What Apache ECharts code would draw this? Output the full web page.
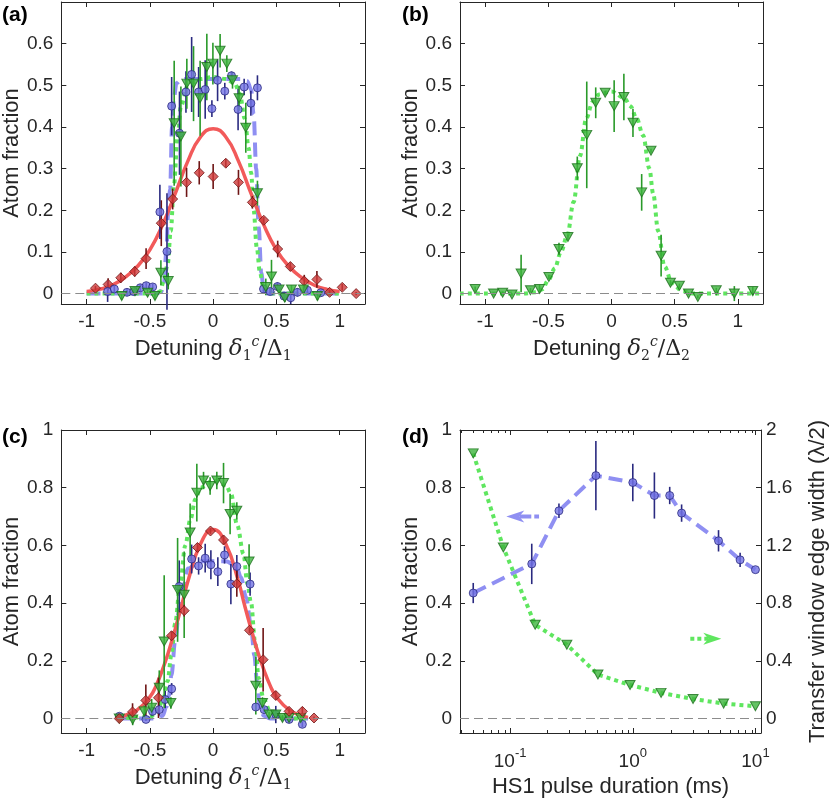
<!DOCTYPE html>
<html>
<head>
<meta charset="utf-8">
<script src="https://cdn.jsdelivr.net/npm/echarts@6/dist/echarts.min.js"></script>
<style>html,body{margin:0;padding:0;background:#fff}#main{width:830px;height:799px}</style>
</head>
<body>
<div id="main"></div>
<script>
// ---- panel (a): detuning scan, three pulse settings ----
var aRedX = [-0.93, -0.83, -0.73, -0.62, -0.53, -0.41, -0.32, -0.21, -0.11, 0.0, 0.1, 0.2, 0.31, 0.4, 0.51, 0.61, 0.72, 0.82, 0.92, 1.02, 1.13];
var aRedY = [0.013, 0.022, 0.038, 0.053, 0.084, 0.169, 0.227, 0.267, 0.29, 0.281, 0.313, 0.267, 0.219, 0.176, 0.107, 0.065, 0.03, 0.034, 0.003, 0.015, 0.0];
var aRedE = [0.005, 0.015, 0.012, 0.012, 0.025, 0.055, 0.025, 0.035, 0.028, 0.03, 0.01, 0.03, 0.015, 0.008, 0.02, 0.01, 0.015, 0.02, 0.005, 0.008, 0.004];
var aBlueX = [-0.834, -0.781, -0.681, -0.628, -0.576, -0.529, -0.478, -0.421, -0.365, -0.328, -0.266, -0.215, -0.17, -0.115, -0.063, -0.01, 0.035, 0.092, 0.145, 0.197, 0.245, 0.298, 0.35, 0.398, 0.45, 0.508, 0.56, 0.613, 0.666, 0.745, 0.85];
var aBlueY = [0.005, 0.011, 0.003, 0.005, 0.014, 0.019, 0.016, 0.196, 0.101, 0.45, 0.385, 0.484, 0.526, 0.484, 0.49, 0.444, 0.512, 0.486, 0.523, 0.442, 0.496, 0.457, 0.494, 0.011, 0.005, 0.017, -0.006, -0.01, 0.003, 0.008, 0.002];
var aBlueE = [0.025, 0.008, 0.008, 0.006, 0.008, 0.008, 0.008, 0.065, 0.14, 0.07, 0.1, 0.05, 0.09, 0.06, 0.07, 0.02, 0.05, 0.02, 0.01, 0.05, 0.02, 0.03, 0.03, 0.01, 0.008, 0.01, 0.01, 0.015, 0.01, 0.008, 0.006];
var aGreenX = [-0.723, -0.618, -0.518, -0.46, -0.413, -0.355, -0.308, -0.255, -0.208, -0.155, -0.103, -0.05, -0.002, 0.055, 0.108, 0.153, 0.205, 0.258, 0.35, 0.416, 0.461, 0.521, 0.566, 0.619, 0.713, 0.824];
var aGreenY = [-0.006, 0.006, 0.002, -0.006, 0.05, 0.03, 0.409, 0.377, 0.504, 0.504, 0.469, 0.544, 0.552, 0.583, 0.552, 0.512, 0.469, 0.398, 0.241, 0.016, 0.041, 0.01, -0.01, 0.01, 0.01, -0.006];
var aGreenE = [0.008, 0.01, 0.008, 0.008, 0.03, 0.02, 0.15, 0.12, 0.06, 0.09, 0.09, 0.08, 0.05, 0.04, 0.02, 0.02, 0.03, 0.06, 0.03, 0.02, 0.04, 0.01, 0.01, 0.01, 0.01, 0.01];
// fit curves
var aRedFitX = [-1.0, -0.9, -0.8, -0.7, -0.6, -0.5, -0.4, -0.3, -0.2, -0.1, 0, 0.1, 0.2, 0.3, 0.4, 0.5, 0.6, 0.7, 0.8, 0.9, 1.0];
var aRedFitY = [0.005, 0.01, 0.02, 0.038, 0.065, 0.105, 0.165, 0.24, 0.318, 0.376, 0.396, 0.376, 0.318, 0.24, 0.165, 0.105, 0.065, 0.038, 0.02, 0.01, 0.005];
var aBlueFitX = [-1.0, -0.45, -0.41, -0.39, -0.37, -0.355, -0.34, -0.325, -0.31, -0.29, -0.25, -0.1, 0.1, 0.22, 0.27, 0.3, 0.32, 0.34, 0.36, 0.38, 0.4, 0.43, 1.0];
var aBlueFitY = [0, 0, 0.005, 0.02, 0.1, 0.2, 0.25, 0.4, 0.47, 0.505, 0.515, 0.515, 0.515, 0.515, 0.51, 0.49, 0.43, 0.3, 0.16, 0.05, 0.01, 0, 0];
var aGreenFitX = [-1.0, -0.45, -0.42, -0.39, -0.36, -0.335, -0.31, -0.28, -0.255, -0.2, -0.1, 0, 0.1, 0.17, 0.21, 0.25, 0.28, 0.3, 0.32, 0.345, 0.37, 0.4, 0.45, 1.0];
var aGreenFitY = [0, 0, 0.005, 0.03, 0.07, 0.15, 0.26, 0.38, 0.45, 0.5, 0.515, 0.52, 0.515, 0.505, 0.48, 0.42, 0.35, 0.29, 0.2, 0.11, 0.05, 0.01, 0, 0];

// ---- panel (b) ----
var bGreenX = [-1.08, -0.934, -0.862, -0.788, -0.716, -0.642, -0.57, -0.496, -0.416, -0.345, -0.271, -0.196, -0.125, -0.05, 0.021, 0.098, 0.17, 0.239, 0.313, 0.393, 0.467, 0.538, 0.61, 0.684, 0.83, 0.973, 1.119];
var bGreenY = [0.011, 0.0, 0.002, -0.002, 0.048, 0.008, 0.011, 0.04, 0.107, 0.136, 0.301, 0.381, 0.458, 0.482, 0.45, 0.472, 0.41, 0.243, 0.343, 0.091, 0.026, 0.019, 0.0, -0.008, 0.008, 0.0, 0.006];
var bGreenE = [0.006, 0.003, 0.003, 0.003, 0.045, 0.005, 0.01, 0.005, 0.015, 0.006, 0.028, 0.128, 0.037, 0.005, 0.062, 0.056, 0.034, 0.044, 0.005, 0.05, 0.006, 0.005, 0.004, 0.004, 0.006, 0.018, 0.01];
var bGreenFitX = [-1.2, -0.7, -0.6, -0.55, -0.5, -0.45, -0.4, -0.35, -0.3, -0.25, -0.2, -0.15, -0.1, 0, 0.1, 0.15, 0.2, 0.25, 0.3, 0.33, 0.37, 0.42, 0.48, 0.56, 0.65, 1.2];
var bGreenFitY = [0, 0, 0.003, 0.01, 0.032, 0.06, 0.1, 0.14, 0.22, 0.33, 0.42, 0.46, 0.478, 0.485, 0.47, 0.45, 0.42, 0.38, 0.3, 0.24, 0.15, 0.065, 0.025, 0.006, 0, 0];

// ---- panel (c) ----
var cRedX = [-0.742, -0.637, -0.532, -0.432, -0.329, -0.229, -0.124, -0.021, 0.082, 0.187, 0.287, 0.395, 0.495, 0.6, 0.705, 0.797];
var cRedY = [0.0, 0.023, 0.063, 0.072, 0.287, 0.374, 0.593, 0.65, 0.619, 0.467, 0.306, 0.204, 0.08, 0.025, 0.025, 0.002];
var cRedE = [0.005, 0.03, 0.055, 0.07, 0.015, 0.02, 0.015, 0.01, 0.015, 0.045, 0.01, 0.11, 0.015, 0.01, 0.015, 0.005];
var cBlueX = [-0.741, -0.531, -0.479, -0.426, -0.379, -0.328, -0.268, -0.17, -0.115, -0.063, -0.018, 0.037, 0.09, 0.14, 0.187, 0.292, 0.337, 0.403, 0.495, 0.6, 0.705];
var cBlueY = [0.008, -0.003, 0.025, 0.031, 0.066, 0.103, 0.458, 0.553, 0.529, 0.556, 0.533, 0.509, 0.567, 0.466, 0.527, 0.466, 0.04, 0.031, 0.014, -0.003, -0.02];
var cBlueE = [0.005, 0.005, 0.015, 0.02, 0.03, 0.02, 0.09, 0.05, 0.03, 0.05, 0.05, 0.05, 0.03, 0.07, 0.04, 0.04, 0.01, 0.01, 0.03, 0.01, 0.01];
var cGreenX = [-0.742, -0.636, -0.545, -0.486, -0.426, -0.387, -0.334, -0.281, -0.229, -0.182, -0.129, -0.076, -0.024, 0.029, 0.082, 0.134, 0.187, 0.284, 0.337, 0.39, 0.442, 0.495, 0.548, 0.6, 0.692];
var cGreenY = [0, -0.003, 0.025, 0.038, 0.107, 0.267, 0.054, 0.446, 0.429, 0.645, 0.783, 0.825, 0.806, 0.825, 0.816, 0.709, 0.72, 0.544, 0.114, 0.054, 0.014, 0.014, 0.002, 0.002, 0.002];
var cGreenE = [0.005, 0.02, 0.02, 0.03, 0.06, 0.23, 0.02, 0.18, 0.15, 0.1, 0.1, 0.03, 0.03, 0.03, 0.07, 0.07, 0.03, 0.06, 0.1, 0.02, 0.01, 0.01, 0.01, 0.01, 0.01];
var cRedFitX = [-0.75, -0.7, -0.6, -0.5, -0.45, -0.4, -0.35, -0.3, -0.25, -0.2, -0.1, 0, 0.1, 0.2, 0.25, 0.3, 0.35, 0.4, 0.45, 0.5, 0.6, 0.7, 0.75];
var cRedFitY = [0.004, 0.01, 0.03, 0.075, 0.115, 0.17, 0.235, 0.31, 0.39, 0.475, 0.605, 0.655, 0.605, 0.475, 0.39, 0.31, 0.235, 0.17, 0.115, 0.075, 0.03, 0.01, 0.004];
var cBlueFitX = [-0.75, -0.45, -0.4, -0.37, -0.35, -0.33, -0.3, -0.27, -0.24, -0.2, -0.1, 0, 0.1, 0.18, 0.22, 0.26, 0.3, 0.325, 0.35, 0.37, 0.4, 0.45, 0.75];
var cBlueFitY = [0, 0, 0.01, 0.04, 0.08, 0.15, 0.27, 0.37, 0.45, 0.52, 0.545, 0.545, 0.545, 0.53, 0.49, 0.42, 0.32, 0.22, 0.11, 0.04, 0.01, 0, 0];
var cGreenFitX = [-0.75, -0.5, -0.45, -0.4, -0.36, -0.33, -0.3, -0.26, -0.22, -0.18, -0.14, -0.1, 0, 0.1, 0.14, 0.19, 0.24, 0.27, 0.3, 0.33, 0.36, 0.4, 0.45, 0.5, 0.55, 0.75];
var cGreenFitY = [0, 0.005, 0.02, 0.06, 0.13, 0.22, 0.33, 0.47, 0.6, 0.69, 0.76, 0.8, 0.825, 0.81, 0.78, 0.67, 0.57, 0.47, 0.4, 0.27, 0.14, 0.066, 0.025, 0.01, 0, 0];

// ---- panel (d): pulse duration scan ----
var dBlueX = [0.05, 0.15, 0.25, 0.5, 1, 1.5, 2, 2.5, 5, 7.5, 10];
var dBlueY = [0.435, 0.536, 0.72, 0.842, 0.818, 0.773, 0.773, 0.712, 0.616, 0.55, 0.516];
var dBlueE = [0.035, 0.07, 0.025, 0.12, 0.065, 0.08, 0.03, 0.03, 0.037, 0.025, 0.0];
var dGreenX = [0.05, 0.088, 0.16, 0.29, 0.52, 0.95, 1.7, 3.1, 5.5, 10];
var dGreenY = [1.838, 1.186, 0.65, 0.512, 0.305, 0.233, 0.178, 0.136, 0.104, 0.085];

// tick labels
var ticksX1 = [-1, -0.5, 0, 0.5, 1];
var ticksY1 = [0, 0.1, 0.2, 0.3, 0.4, 0.5, 0.6];
var ticksY2 = [0, 0.2, 0.4, 0.6, 0.8, 1];
var ticksYR = [0, 0.4, 0.8, 1.2, 1.6, 2];
var ticksLog = [0.1, 1, 10];
var ticksLogMinor = [0.04, 0.05, 0.06, 0.07, 0.08, 0.09, 0.2, 0.3, 0.4, 0.5, 0.6, 0.7, 0.8, 0.9, 2, 3, 4, 5, 6, 7, 8, 9];
var D_MIN = 0.039, D_MAX = 11.1;

var FONT = '"Liberation Sans", Arial, Helvetica, sans-serif';
var INK = '#262626';
var RED_LINE = '#f25a5a', RED_FILL = '#cf3a3a', RED_EDGE = '#6e1515';
var BLUE_LINE = '#8f8ff2', BLUE_FILL = '#7373e3', BLUE_EDGE = '#2a2a80';
var GREEN_LINE = '#5fe65f', GREEN_FILL = '#3db43d', GREEN_EDGE = '#1c701c';
var TICK_SIZE = 19, NAME_SIZE = 22;

function pairs(xs, ys) { return xs.map(function (x, i) { return [x, ys[i]]; }); }
function bars(xs, ys, es) { return xs.map(function (x, i) { return [x, ys[i] - es[i], ys[i] + es[i]]; }); }

var nameStyle = { fontSize: NAME_SIZE, color: INK, fontFamily: FONT };
var detRich = {
  r: { fontSize: NAME_SIZE, lineHeight: 28, verticalAlign: 'middle', color: INK, fontFamily: FONT },
  i: { fontSize: 23, lineHeight: 28, verticalAlign: 'middle', color: INK, fontFamily: 'DejaVu Serif', fontStyle: 'italic' },
  sub: { fontSize: 14, lineHeight: 14, verticalAlign: 'bottom', color: INK, fontFamily: 'DejaVu Serif' },
  sup: { fontSize: 14, lineHeight: 14, verticalAlign: 'top', color: INK, fontFamily: 'DejaVu Serif', fontStyle: 'italic' },
  g: { fontSize: NAME_SIZE, lineHeight: 28, verticalAlign: 'middle', color: INK, fontFamily: 'DejaVu Serif' }
};

function frameAxis(grid, type, min, max, pos, ticks, labels, extra) {
  var ax = {
    gridIndex: grid, type: type, min: min, max: max, position: pos,
    splitLine: { show: false },
    axisLine: { show: true, onZero: false, lineStyle: { color: INK, width: 1 } },
    axisTick: { show: true, inside: true, length: 5, customValues: ticks, lineStyle: { color: INK, width: 1 } },
    axisLabel: labels ? { show: true, customValues: ticks, fontSize: TICK_SIZE, color: INK, fontFamily: FONT, margin: 8 } : { show: false }
  };
  return Object.assign(ax, extra || {});
}
// minor log ticks: an overlay grid on panel (d) whose plain value axis runs in decades
function minorAxis(grid, pos) {
  return {
    gridIndex: grid, type: 'value', min: Math.log10(D_MIN), max: Math.log10(D_MAX), position: pos,
    splitLine: { show: false }, axisLine: { show: false, onZero: false }, axisLabel: { show: false },
    axisTick: { show: true, inside: true, length: 3, customValues: ticksLogMinor.map(Math.log10), lineStyle: { color: INK } }
  };
}
function detName(n) { return '{r|Detuning }{i|δ}{sub|' + n + '}{sup|c}{g|/Δ}{sub|' + n + '}'; }
function xName(name, gap, rich) {
  return { name: name, nameLocation: 'middle', nameGap: gap, nameTextStyle: Object.assign({}, nameStyle, rich ? { rich: rich } : {}) };
}
function yName(name, gap) {
  return { name: name, nameLocation: 'middle', nameGap: gap, nameTextStyle: nameStyle };
}

var xAxes = [
  frameAxis(0, 'value', -1.2, 1.2, 'bottom', ticksX1, true, xName(detName(1), 31, detRich)),
  frameAxis(0, 'value', -1.2, 1.2, 'top', ticksX1, false),
  frameAxis(1, 'value', -1.2, 1.2, 'bottom', ticksX1, true, xName(detName(2), 31, detRich)),
  frameAxis(1, 'value', -1.2, 1.2, 'top', ticksX1, false),
  frameAxis(2, 'value', -1.2, 1.2, 'bottom', ticksX1, true, xName(detName(1), 31, detRich)),
  frameAxis(2, 'value', -1.2, 1.2, 'top', ticksX1, false),
  frameAxis(3, 'log', D_MIN, D_MAX, 'bottom', ticksLog, true, xName('HS1 pulse duration (ms)', 43)),
  frameAxis(3, 'log', D_MIN, D_MAX, 'top', ticksLog, false),
  minorAxis(4, 'bottom'),
  minorAxis(4, 'top')
];
xAxes[6].axisLabel.margin = 14;
xAxes[6].axisLabel.formatter = function (v) {
  var e = Math.round(Math.log10(v));
  return '{b|10}{s|' + e + '}';
};
xAxes[6].axisLabel.rich = {
  b: { fontSize: TICK_SIZE, lineHeight: 24, verticalAlign: 'bottom', color: INK, fontFamily: FONT },
  s: { fontSize: 13, lineHeight: 13, verticalAlign: 'top', color: INK, fontFamily: FONT }
};

var yAxes = [
  frameAxis(0, 'value', -0.025, 0.7, 'left', ticksY1, true, yName('Atom fraction', 38)),
  frameAxis(0, 'value', -0.025, 0.7, 'right', ticksY1, false),
  frameAxis(1, 'value', -0.025, 0.7, 'left', ticksY1, true, yName('Atom fraction', 38)),
  frameAxis(1, 'value', -0.025, 0.7, 'right', ticksY1, false),
  frameAxis(2, 'value', -0.05, 1, 'left', ticksY2, true, yName('Atom fraction', 38)),
  frameAxis(2, 'value', -0.05, 1, 'right', ticksY2, false),
  frameAxis(3, 'value', -0.05, 1, 'left', ticksY2, true, yName('Atom fraction', 38)),
  frameAxis(3, 'value', -0.1, 2, 'right', ticksYR, true, yName('Transfer window edge width (λ/2)', 46)),
  { gridIndex: 4, type: 'value', min: 0, max: 1, show: false }
];
yAxes[7].axisLabel.margin = 5;

var zeroLine = {
  silent: true, symbol: ['none', 'none'], label: { show: false },
  lineStyle: { color: '#8c8c8c', type: [9, 5], width: 1 },
  data: [{ yAxis: 0 }]
};

function fitLine(xi, yi, data, color, dash, withZero) {
  var s = {
    type: 'line', xAxisIndex: xi, yAxisIndex: yi, data: data, showSymbol: false,
    smooth: 0.35, smoothMonotone: 'x', z: 2, silent: true,
    lineStyle: { color: color, width: 4, type: dash, cap: 'butt' }
  };
  if (withZero) s.markLine = zeroLine;
  return s;
}
function gaussLine(xi, yi, data, color) {
  var s = fitLine(xi, yi, data, color, 'solid');
  s.smooth = 0.5;
  s.smoothMonotone = null;
  s.lineStyle.width = 3.5;
  return s;
}
function errBars(xi, yi, data, color) {
  return {
    type: 'custom', xAxisIndex: xi, yAxisIndex: yi, data: data, z: 3, silent: true,
    encode: { x: 0, y: [1, 2] },
    renderItem: function (params, api) {
      var p1 = api.coord([api.value(0), api.value(1)]);
      var p2 = api.coord([api.value(0), api.value(2)]);
      return { type: 'line', shape: { x1: p1[0], y1: p1[1], x2: p2[0], y2: p2[1] }, style: { stroke: color, lineWidth: 1.6 } };
    }
  };
}
function markers(xi, yi, data, kind) {
  var s = { type: 'scatter', xAxisIndex: xi, yAxisIndex: yi, data: data, z: 4, silent: true };
  if (kind === 'red') { s.symbol = 'diamond'; s.symbolSize = 10; s.itemStyle = { color: RED_FILL, borderColor: RED_EDGE, borderWidth: 1 }; }
  if (kind === 'blue') { s.symbol = 'circle'; s.symbolSize = 8; s.itemStyle = { color: BLUE_FILL, borderColor: BLUE_EDGE, borderWidth: 1 }; }
  if (kind === 'green') { s.symbol = 'triangle'; s.symbolRotate = 180; s.symbolSize = [10, 9]; s.itemStyle = { color: GREEN_FILL, borderColor: GREEN_EDGE, borderWidth: 1 }; }
  return s;
}

var DASH = [14, 7], DOT = [4, 4];

var series = [
  // (a)
  fitLine(0, 0, pairs(aBlueFitX, aBlueFitY), BLUE_LINE, DASH, true),
  fitLine(0, 0, pairs(aGreenFitX, aGreenFitY), GREEN_LINE, DOT),
  gaussLine(0, 0, pairs(aRedFitX, aRedFitY), RED_LINE),
  errBars(0, 0, bars(aRedX, aRedY, aRedE), RED_EDGE),
  errBars(0, 0, bars(aBlueX, aBlueY, aBlueE), BLUE_EDGE),
  errBars(0, 0, bars(aGreenX, aGreenY, aGreenE), '#2a9a2a'),
  markers(0, 0, pairs(aRedX, aRedY), 'red'),
  markers(0, 0, pairs(aBlueX, aBlueY), 'blue'),
  markers(0, 0, pairs(aGreenX, aGreenY), 'green'),
  // (b)
  fitLine(2, 2, pairs(bGreenFitX, bGreenFitY), GREEN_LINE, DOT, true),
  errBars(2, 2, bars(bGreenX, bGreenY, bGreenE), '#2a9a2a'),
  markers(2, 2, pairs(bGreenX, bGreenY), 'green'),
  // (c)
  fitLine(4, 4, pairs(cBlueFitX, cBlueFitY), BLUE_LINE, DASH, true),
  fitLine(4, 4, pairs(cGreenFitX, cGreenFitY), GREEN_LINE, DOT),
  gaussLine(4, 4, pairs(cRedFitX, cRedFitY), RED_LINE),
  errBars(4, 4, bars(cBlueX, cBlueY, cBlueE), BLUE_EDGE),
  errBars(4, 4, bars(cGreenX, cGreenY, cGreenE), '#2a9a2a'),
  errBars(4, 4, bars(cRedX, cRedY, cRedE), RED_EDGE),
  markers(4, 4, pairs(cBlueX, cBlueY), 'blue'),
  markers(4, 4, pairs(cGreenX, cGreenY), 'green'),
  markers(4, 4, pairs(cRedX, cRedY), 'red'),
  // (d)
  Object.assign(fitLine(6, 6, pairs(dBlueX, dBlueY), BLUE_LINE, DASH, true), { smooth: false }),
  Object.assign(fitLine(6, 7, pairs(dGreenX, dGreenY), GREEN_LINE, DOT), { smooth: false }),
  errBars(6, 6, bars(dBlueX, dBlueY, dBlueE), BLUE_EDGE),
  markers(6, 6, pairs(dBlueX, dBlueY), 'blue'),
  markers(6, 7, pairs(dGreenX, dGreenY), 'green')
];

function panelTitle(t, l, top) {
  return { text: t, left: l, top: top, padding: 0, textStyle: { fontSize: 21, fontWeight: 'bold', color: '#000', fontFamily: FONT } };
}

var chart = echarts.init(document.getElementById('main'), null, { renderer: 'canvas' });
chart.setOption({
  animation: false,
  backgroundColor: '#fff',
  title: [panelTitle('(a)', 2, 5), panelTitle('(b)', 402, 5), panelTitle('(c)', 2, 427), panelTitle('(d)', 402, 427)],
  grid: [
    { left: 61, top: 2, width: 304, height: 302 },
    { left: 460, top: 2, width: 303, height: 302 },
    { left: 61, top: 430, width: 304, height: 303 },
    { left: 460, top: 430, width: 303, height: 303 },
    { left: 460, top: 430, width: 303, height: 303 }
  ],
  xAxis: xAxes,
  yAxis: yAxes,
  series: series
});

// arrows in (d) showing which axis each curve belongs to
function arrow(tip, tail, color, dash) {
  var dx = tail[0] > tip[0] ? 1 : -1;
  var back = tip[0] + dx * 18, notch = tip[0] + dx * 13;
  return [
    { type: 'line', shape: { x1: notch, y1: tip[1], x2: tail[0], y2: tip[1] }, style: { stroke: color, lineWidth: 4, lineDash: dash }, z: 10 },
    { type: 'polygon', shape: { points: [[tip[0], tip[1]], [back, tip[1] - 6], [notch, tip[1]], [back, tip[1] + 6]] }, style: { fill: color }, z: 10 }
  ];
}
var bTip = chart.convertToPixel({ xAxisIndex: 6, yAxisIndex: 6 }, [0.093, 0.7]);
var bTail = chart.convertToPixel({ xAxisIndex: 6, yAxisIndex: 6 }, [0.172, 0.7]);
var gTip = chart.convertToPixel({ xAxisIndex: 6, yAxisIndex: 7 }, [5.27, 0.554]);
var gTail = chart.convertToPixel({ xAxisIndex: 6, yAxisIndex: 7 }, [2.9, 0.554]);
chart.setOption({ graphic: arrow(bTip, bTail, BLUE_LINE, [12, 3]).concat(arrow(gTip, gTail, GREEN_LINE, [4, 3])) });
</script>
</body>
</html>
